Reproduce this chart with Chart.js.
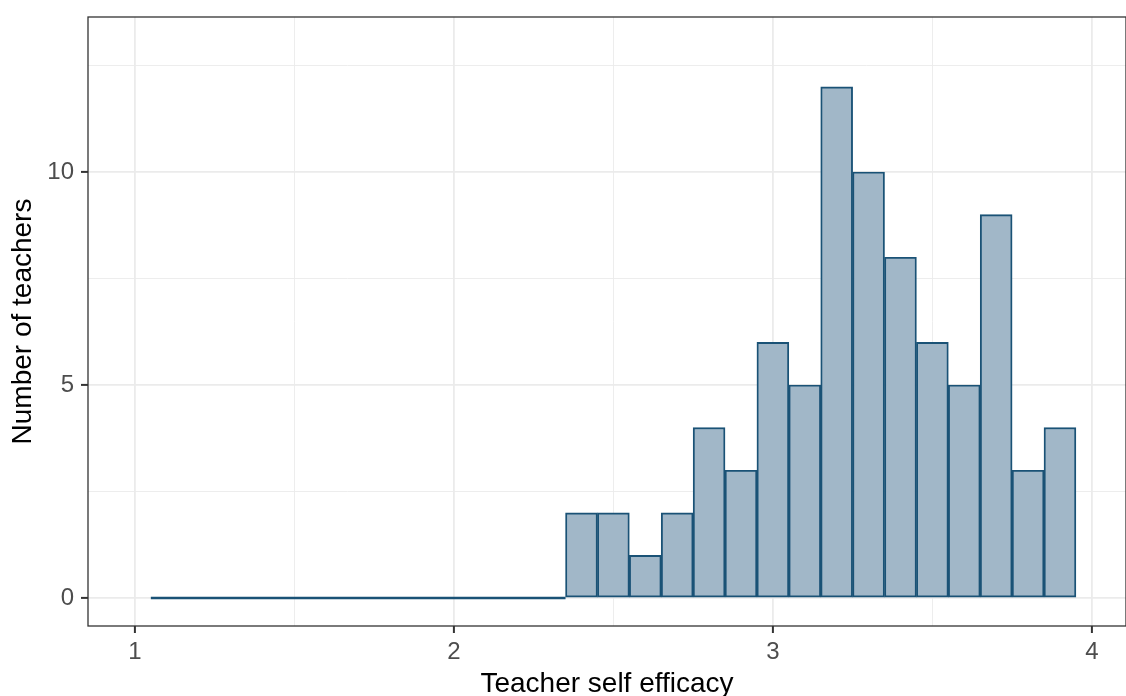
<!DOCTYPE html>
<html>
<head>
<meta charset="utf-8">
<script src="https://cdn.jsdelivr.net/npm/chart.js@4"></script>
<style>
  html, body { margin: 0; padding: 0; background: #fff; overflow: hidden; }
  #wrap { width: 1126px; height: 696px; position: relative; }
</style>
</head>
<body>
<div id="wrap"><canvas id="chart"></canvas></div>
<script>
// histogram bins (width 0.1), mid points and counts
const binMids = [1.1, 1.2, 1.3, 1.4, 1.5, 1.6, 1.7, 1.8, 1.9, 2.0, 2.1, 2.2, 2.3,
  2.4, 2.5, 2.6, 2.7, 2.8, 2.9, 3.0, 3.1, 3.2, 3.3, 3.4, 3.5, 3.6, 3.7, 3.8, 3.9];
const teacherCounts = [0, 0, 0, 0, 0, 0, 0, 0, 0, 0, 0, 0, 0,
  2, 2, 1, 2, 4, 3, 6, 5, 12, 10, 8, 6, 5, 9, 3, 4];
const binWidth = 0.1;

const xTicks = [1, 1.5, 2, 2.5, 3, 3.5, 4];
const yTicks = [0, 2.5, 5, 7.5, 10, 12.5];
const xRange = [0.853, 4.107];
const yRange = [-0.657, 13.64];

const strokeCol = '#1a5276';
const fillCol = '#a1b7c8';
const gridCol = '#ebebeb';
const fontFamily = "'Liberation Sans', Arial, sans-serif";

const barData = binMids.map((m, i) => ({ x: m, y: teacherCounts[i] }));

// empty bins are drawn as a flat outline on zero
const zeroLine = [];
binMids.forEach((m, i) => {
  if (teacherCounts[i] === 0) {
    zeroLine.push({ x: m - binWidth / 2, y: 0 });
    zeroLine.push({ x: m + binWidth / 2, y: 0 });
  }
});

const panelBorder = {
  id: 'panelBorder',
  afterDraw(chart) {
    const { ctx, chartArea: a } = chart;
    ctx.save();
    ctx.strokeStyle = '#333333';
    ctx.lineWidth = 1.3;
    ctx.strokeRect(a.left, a.top, a.right - a.left, a.bottom - a.top);
    ctx.restore();
  }
};

const noScalePad = s => {
  s.paddingTop = 0;
  s.paddingBottom = 0;
  s.paddingLeft = 0;
  s.paddingRight = 0;
};

new Chart(document.getElementById('chart'), {
  data: {
    datasets: [
      {
        type: 'line',
        data: zeroLine,
        borderColor: strokeCol,
        borderWidth: 2.6,
        pointRadius: 0,
        fill: false,
      },
      {
        type: 'bar',
        data: barData,
        backgroundColor: fillCol,
        borderColor: strokeCol,
        borderWidth: 1.9,
        borderSkipped: false,
        barPercentage: 1,
        categoryPercentage: 1,
      },
    ],
  },
  options: {
    responsive: true,
    maintainAspectRatio: false,
    animation: false,
    devicePixelRatio: 1,
    layout: { padding: { top: 17, right: 0, left: 0, bottom: 0 } },
    plugins: { legend: { display: false }, tooltip: { enabled: false } },
    scales: {
      x: {
        type: 'linear',
        offset: false,
        min: xRange[0],
        max: xRange[1],
        afterBuildTicks: s => { s.ticks = xTicks.map(v => ({ value: v })); },
        afterFit: s => { s.height = 70; noScalePad(s); },
        border: { display: false },
        grid: {
          offset: false,
          color: gridCol,
          lineWidth: c => (c.tick && Number.isInteger(c.tick.value) ? 1.8 : 0.9),
          tickColor: c => (c.tick && Number.isInteger(c.tick.value) ? '#333333' : 'rgba(0,0,0,0)'),
          tickLength: 7,
          tickWidth: 2,
        },
        ticks: {
          color: '#4d4d4d',
          padding: 5,
          maxRotation: 0,
          font: { family: fontFamily, size: 24 },
          callback: v => (Number.isInteger(v) ? String(v) : ''),
        },
        title: {
          display: true,
          text: 'Teacher self efficacy',
          color: '#000000',
          font: { family: fontFamily, size: 28, lineHeight: 1 },
          padding: { top: 0, bottom: -2 },
        },
      },
      y: {
        type: 'linear',
        min: yRange[0],
        max: yRange[1],
        afterBuildTicks: s => { s.ticks = yTicks.map(v => ({ value: v })); },
        afterFit: s => { s.width = 88; noScalePad(s); },
        border: { display: false },
        grid: {
          color: gridCol,
          lineWidth: c => (c.tick && Number.isInteger(c.tick.value) ? 1.8 : 0.9),
          tickColor: c => (c.tick && Number.isInteger(c.tick.value) ? '#333333' : 'rgba(0,0,0,0)'),
          tickLength: 7,
          tickWidth: 2,
        },
        ticks: {
          color: '#4d4d4d',
          padding: 7,
          font: { family: fontFamily, size: 24 },
          callback: v => (Number.isInteger(v) ? String(v) : ''),
        },
        title: {
          display: true,
          text: 'Number of teachers',
          color: '#000000',
          font: { family: fontFamily, size: 28, lineHeight: 1 },
          padding: { top: 9, bottom: 0 },
        },
      },
    },
  },
  plugins: [panelBorder],
});
</script>
</body>
</html>
